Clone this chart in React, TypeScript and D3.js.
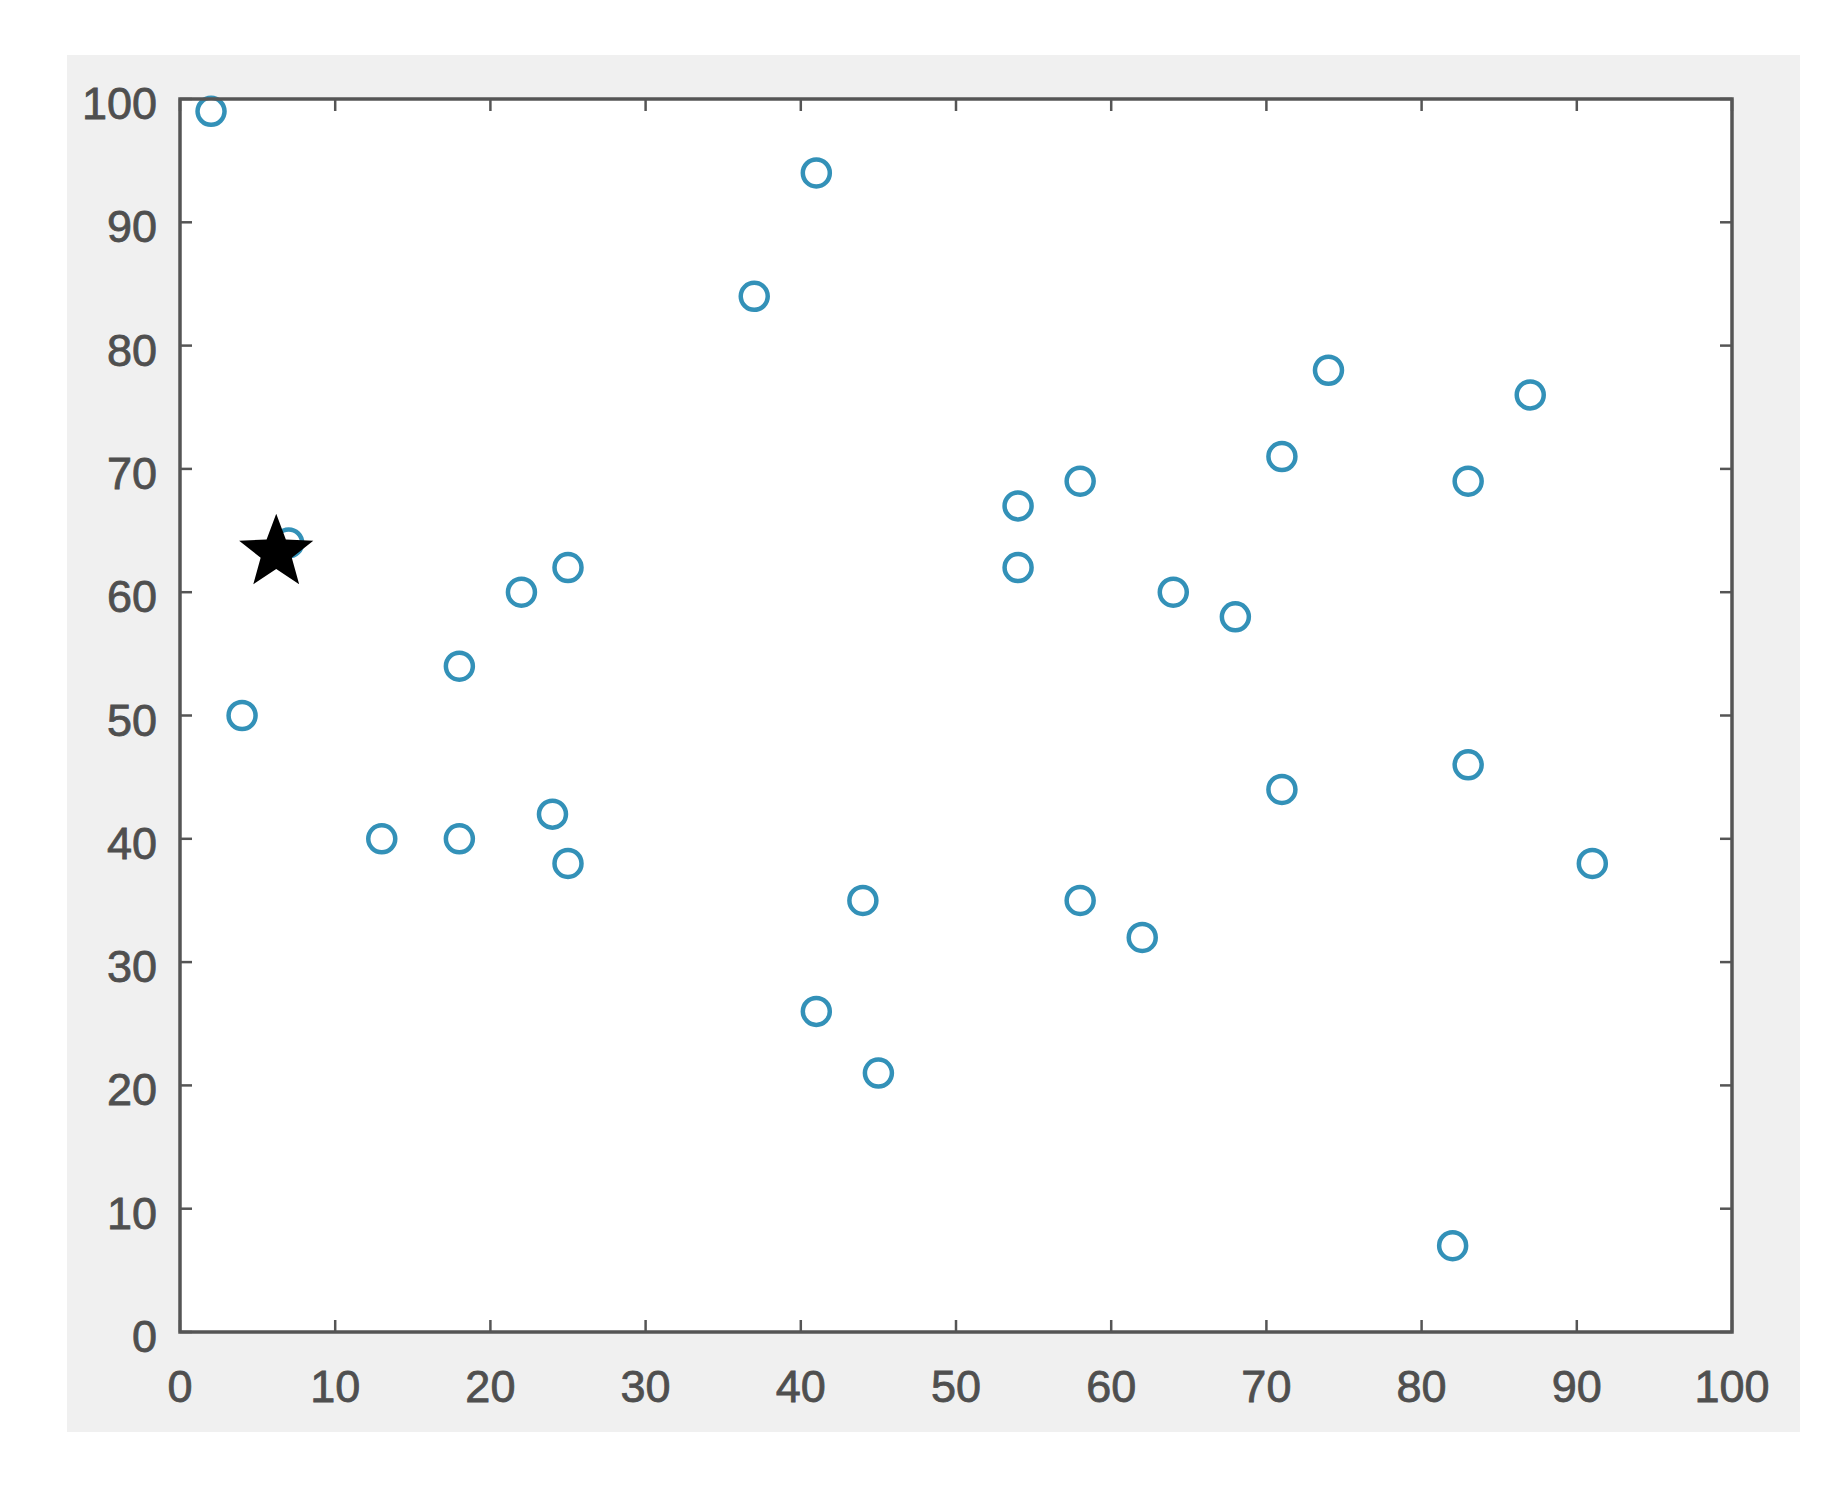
import React from "react";
import * as d3 from "d3";

const xValues = [2, 41, 37, 74, 87, 71, 58, 83, 54, 54, 25, 22, 64, 68, 18, 4, 83, 71, 24, 13, 18, 25, 91, 44, 58, 62, 41, 45, 82, 7];
const yValues = [99, 94, 84, 78, 76, 71, 69, 69, 67, 62, 62, 60, 60, 58, 54, 50, 46, 44, 42, 40, 40, 38, 38, 35, 35, 32, 26, 21, 7, 64];
const starPoint = [6.2, 63.2];
const xTicks = [0, 10, 20, 30, 40, 50, 60, 70, 80, 90, 100];
const yTicks = [0, 10, 20, 30, 40, 50, 60, 70, 80, 90, 100];

const W = 1843;
const H = 1486;
const plot = { left: 180, right: 1732, top: 99, bottom: 1332 };

export default function App() {
  const x = d3.scaleLinear().domain([0, 100]).range([plot.left, plot.right]);
  const y = d3.scaleLinear().domain([0, 100]).range([plot.bottom, plot.top]);
  const axisColor = "#555555";
  const labelColor = "#4f4f4f";
  const font = "'Liberation Sans', Arial, Helvetica, sans-serif";
  const tickLen = 12;

  const starPath = (() => {
    const R = 39;
    const r = R * 0.42;
    const pts: [number, number][] = [];
    for (let i = 0; i < 10; i++) {
      const a = -Math.PI / 2 + (i * Math.PI) / 5;
      const rad = i % 2 === 0 ? R : r;
      pts.push([rad * Math.cos(a), rad * Math.sin(a)]);
    }
    return d3.line()(pts) + "Z";
  })();

  return (
    <svg
      width={W}
      height={H}
      style={{ position: "absolute", left: 0, top: 0, background: "#ffffff" }}
    >
      <rect x={67} y={55} width={1733} height={1377} fill="#f0f0f0" />
      <rect
        x={plot.left}
        y={plot.top}
        width={plot.right - plot.left}
        height={plot.bottom - plot.top}
        fill="#ffffff"
      />
      {xTicks.map((t) => (
        <g key={"xt" + t}>
          <line x1={x(t)} x2={x(t)} y1={plot.bottom} y2={plot.bottom - tickLen} stroke={axisColor} strokeWidth={2.5} />
          <line x1={x(t)} x2={x(t)} y1={plot.top} y2={plot.top + tickLen} stroke={axisColor} strokeWidth={2.5} />
          <text
            x={x(t)}
            y={1402}
            textAnchor="middle"
            fontFamily={font}
            fontSize={45}
            fill={labelColor}
            stroke={labelColor}
            strokeWidth={0.8}
          >
            {t}
          </text>
        </g>
      ))}
      {yTicks.map((t) => (
        <g key={"yt" + t}>
          <line x1={plot.left} x2={plot.left + tickLen} y1={y(t)} y2={y(t)} stroke={axisColor} strokeWidth={2.5} />
          <line x1={plot.right} x2={plot.right - tickLen} y1={y(t)} y2={y(t)} stroke={axisColor} strokeWidth={2.5} />
          <text
            x={157}
            y={y(t) + 20}
            textAnchor="end"
            fontFamily={font}
            fontSize={45}
            fill={labelColor}
            stroke={labelColor}
            strokeWidth={0.8}
          >
            {t}
          </text>
        </g>
      ))}
      {xValues.map((v, i) => (
        <circle
          key={"p" + i}
          cx={x(v)}
          cy={y(yValues[i])}
          r={13.5}
          fill="none"
          stroke="#3391b8"
          strokeWidth={4.5}
        />
      ))}
      <path
        d={starPath}
        transform={`translate(${x(starPoint[0])},${y(starPoint[1])})`}
        fill="#000000"
      />
      <rect
        x={plot.left}
        y={plot.top}
        width={plot.right - plot.left}
        height={plot.bottom - plot.top}
        fill="none"
        stroke={axisColor}
        strokeWidth={3.5}
      />
    </svg>
  );
}
